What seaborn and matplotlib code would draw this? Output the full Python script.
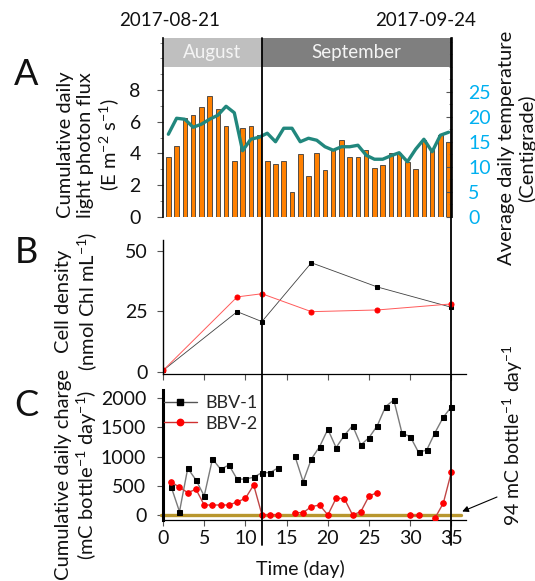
import numpy as np
import pandas as pd
import matplotlib
matplotlib.use("Agg")
import matplotlib.pyplot as plt
import matplotlib.transforms as mtransforms
from matplotlib.lines import Line2D
from matplotlib.ticker import MultipleLocator
import seaborn as sns

# ---- data ----
days = np.arange(1, 36)

# panel A: cumulative daily light photon flux (E m-2 s-1) and mean temperature (C)
light_flux = [3.8, 4.45, 6.25, 6.4, 6.95, 7.6, 6.8, 5.75, 3.5, 5.6, 5.7, 5.15,
              3.55, 3.35, 3.55, 1.55, 3.95, 2.55, 4.0, 2.95, 4.25, 4.85, 3.8, 3.8,
              4.2, 3.05, 3.25, 4.0, 4.05, 3.45, 3.0, 4.85, 4.25, 5.15, 4.75]
temperature = [16.5, 19.7, 19.5, 17.9, 18.5, 19.5, 20.3, 22.1, 20.8, 13.2, 15.5, 15.9,
               16.7, 15.0, 17.7, 17.7, 15.0, 15.7, 15.3, 14.0, 13.3, 14.0, 14.0, 14.3,
               12.3, 11.5, 11.5, 12.2, 12.8, 11.0, 13.5, 15.5, 13.0, 16.3, 16.9]
months = ["August", "September"]
month_bounds = [0, 12, 35]
dates = ["2017-08-21", "2017-09-24"]

# panel B: cell density (nmol Chl mL-1)
density_days = [0, 9, 12, 18, 26, 35]
density_bbv1 = [0.5, 24.8, 20.7, 45.0, 35.0, 26.6]
density_bbv2 = [0.5, 30.9, 32.2, 24.8, 25.5, 28.0]

# panel C: cumulative daily charge (mC bottle-1 day-1), NaN = no measurement
nan = np.nan
charge_bbv1 = [480, 57, 800, 600, 326, 960, 783, 857, 611, 617, 646, 726,
               726, 811, nan, 1011, 571, 960, 1171, 1469, 1154, 1366, 1531, 1200,
               1326, 1531, 1857, 1971, 1400, 1343, 1074, 1114, 1411, 1674, 1857]
charge_bbv2 = [566, 474, 383, 440, 171, 171, 171, 171, 223, 286, 514, 6,
               0, 6, nan, 40, 40, 143, 171, 0, 286, 280, 0, 57,
               326, 383, nan, nan, nan, 0, 0, nan, -51, 200, 743]
threshold = 0
threshold_text = "94 mC bottle$^{-1}$ day$^{-1}$"
series = ["BBV-1", "BBV-2"]

# ---- style ----
sns.set_theme(style="ticks")
plt.rcParams["font.family"] = ["Lato", "DejaVu Sans"]
plt.rcParams["mathtext.fontset"] = "custom"
plt.rcParams["mathtext.rm"] = "Lato"
plt.rcParams["mathtext.default"] = "regular"
FS = 14          # tick labels
LFS = 14.5       # axis titles
TXT = "#111111"
CYAN = "#00b0f0"

W, H = 535, 581


def box(left, top, right, bottom):
    return [left / W, 1 - bottom / H, (right - left) / W, (bottom - top) / H]


fig = plt.figure(figsize=(W / 100, H / 100), dpi=100)
axA = fig.add_axes(box(163, 38.3, 451.5, 216.7))
axT = axA.twinx()
axB = fig.add_axes(box(163, 240, 466, 374.3))
axC = fig.add_axes(box(163, 390, 466, 520))

bar_pos = days - 0.35

# ---- panel A ----
sns.barplot(x=bar_pos, y=light_flux, native_scale=True, width=0.55, color="#ff8000",
            saturation=1, edgecolor="#3a3a3a", linewidth=0.6, ax=axA)
sns.lineplot(x=bar_pos, y=temperature, color="#21877d", lw=2.4, ax=axT)
axA.set_xlim(0, 35)
axA.set_ylim(0, 11.27)
axT.set_ylim(0, 35.7)
head_frac = (216.7 - 66.7) / 178.4
head_colors = ["#bfbfbf", "#7f7f7f"]
tr = mtransforms.blended_transform_factory(axA.transData, axA.transAxes)
for name, a, b, c in zip(months, month_bounds[:-1], month_bounds[1:], head_colors):
    axA.axvspan(a, b, ymin=head_frac, ymax=1, color=c, lw=0, zorder=0)
    axA.text((a + b) / 2, (head_frac + 1) / 2, name, transform=tr, ha="center",
             va="center", color="#f4f4f4", fontsize=13.5)
axA.set_xlabel("")
axA.set_ylabel("")
axT.set_ylabel("")
axA.set_xticks([])
axA.yaxis.set_major_locator(MultipleLocator(2))
axA.yaxis.set_minor_locator(MultipleLocator(1))
axA.set_yticks(range(0, 9, 2))
axA.tick_params(axis="y", which="major", length=4, width=0.8, pad=12, labelsize=FS,
                colors="#555555", labelcolor=TXT)
axA.tick_params(axis="y", which="minor", length=2.5, width=0.6, colors="#777777")
axT.set_yticks(range(0, 26, 5))
axT.yaxis.set_minor_locator(MultipleLocator(2.5))
axT.tick_params(axis="y", which="major", direction="in", length=4, width=0.8, pad=12,
                labelsize=FS, colors="#555555", labelcolor=CYAN)
axT.tick_params(axis="y", which="minor", direction="in", length=2.5, width=0.6,
                colors="#777777")
for ax in (axA, axT):
    for s in ("top", "bottom"):
        ax.spines[s].set_visible(False)
    ax.patch.set_visible(False)
axA.spines["right"].set_visible(False)
axT.spines["left"].set_visible(False)
axA.spines["left"].set_color("black")
axA.spines["left"].set_linewidth(1.2)
axT.spines["right"].set_color("black")
axT.spines["right"].set_linewidth(1.2)

# ---- panel B ----
sns.lineplot(x=density_days, y=density_bbv1, color="#404040", lw=0.6, marker="s",
             ms=3.2, mfc="black", mec="black", ax=axB)
sns.lineplot(x=density_days, y=density_bbv2, color="#ff5a5a", lw=0.7, marker="o",
             ms=3.6, mfc="red", mec="red", ax=axB)
axB.set_xlim(0, 36.76)
axB.set_ylim(-1.07, 54.4)
axB.set_xticks(range(0, 36, 5))
axB.set_xticklabels([])
axB.set_yticks([0, 25, 50])
axB.tick_params(axis="x", length=4, width=0.8, colors="#555555")
axB.tick_params(axis="y", length=4, width=0.8, pad=7, labelsize=FS, colors="#555555",
                labelcolor=TXT)

# ---- panel C ----
for vals, col, lcol, mk, ms in zip([charge_bbv1, charge_bbv2], ["black", "red"],
                                   ["#7a7a7a", "#c04545"], ["s", "o"], [3.6, 4.0]):
    df = pd.DataFrame({"day": days, "charge": vals})
    df["seg"] = df["charge"].isna().cumsum()
    df = df.dropna()
    sns.lineplot(data=df, x="day", y="charge", units="seg", estimator=None, color=lcol,
                 lw=1.0, marker=mk, ms=ms, mfc=col, mec=col, ax=axC, zorder=3)
axC.axhline(threshold, xmin=-0.3 / 36.76, xmax=36.1 / 36.76, color="#b8962e", lw=2.4,
            zorder=2, clip_on=False)
axC.set_xlim(0, 36.76)
axC.set_ylim(-86, 2142)
axC.set_xticks(range(0, 36, 5))
axC.set_yticks(range(0, 2001, 500))
axC.tick_params(axis="x", length=4, width=0.8, pad=3, labelsize=FS, colors="#555555",
                labelcolor=TXT)
axC.tick_params(axis="y", length=4, width=0.8, pad=8, labelsize=FS, colors="#555555",
                labelcolor=TXT)
axC.set_xlabel("")
axC.set_ylabel("")
axC.spines["left"].set_linewidth(2.2)
handles = [Line2D([], [], color="#555555", lw=1, marker="s", ms=4.2, mfc="black", mec="black"),
           Line2D([], [], color="#d03030", lw=1, marker="o", ms=4.6, mfc="red", mec="red")]
axC.legend(handles, series, loc="upper left", bbox_to_anchor=(164 / W, 1 - 395 / H),
           bbox_transform=fig.transFigure, frameon=False, borderpad=0, borderaxespad=0,
           handlelength=1.8, handletextpad=0.5, labelspacing=0.25, fontsize=13)
axC.annotate("", xy=(36.3, 60), xycoords="data", xytext=(497, H - 497),
             textcoords="figure pixels", annotation_clip=False,
             arrowprops=dict(arrowstyle="-|>", color="black", lw=0.8, mutation_scale=9,
                             shrinkA=0, shrinkB=0))

for ax in (axB, axC):
    ax.set_xlabel("")
    ax.set_ylabel("")
    for s in ("top", "right"):
        ax.spines[s].set_visible(False)
    for s in ("left", "bottom"):
        ax.spines[s].set_color("black")
    ax.spines["bottom"].set_linewidth(0.9)
    ax.patch.set_visible(False)
axB.spines["left"].set_linewidth(1.0)

# ---- day 12 and day 35 guide lines across all panels ----
vtr = mtransforms.blended_transform_factory(axA.transData, fig.transFigure)
for d in month_bounds[1:]:
    fig.add_artist(Line2D([d, d], [1 - 545 / H, 1 - 38.3 / H], transform=vtr,
                          color="black", lw=1.3, zorder=5))

# ---- texts ----
def ftext(x, y, s, **kw):
    kw.setdefault("fontsize", LFS)
    kw.setdefault("color", TXT)
    fig.text(x / W, 1 - y / H, s, ha="center", va="center", **kw)


ftext(170, 21, dates[0], fontsize=13.5)
ftext(426, 21, dates[1], fontsize=13.5)
for letter, y in zip("ABC", [74, 253, 405]):
    ftext(26, y, letter, fontsize=26)
ftext(89, 145, "Cumulative daily\nlight photon flux\n(E m$^{-2}$ s$^{-1}$)", rotation=90,
      multialignment="center", linespacing=1.2)
ftext(517, 148, "Average daily temperature\n(Centigrade)", rotation=90,
      multialignment="center", linespacing=1.2)
ftext(77, 301, "Cell density\n(nmol Chl mL$^{-1}$)", rotation=90,
      multialignment="center", linespacing=1.2)
ftext(77, 475, "Cumulative daily charge\n(mC bottle$^{-1}$ day$^{-1}$)", rotation=90,
      multialignment="center", linespacing=1.2)
ftext(300, 569, "Time (day)", fontsize=14)
ftext(513, 435, threshold_text, fontsize=14, rotation=90)

fig.savefig("out.png", dpi=100)
